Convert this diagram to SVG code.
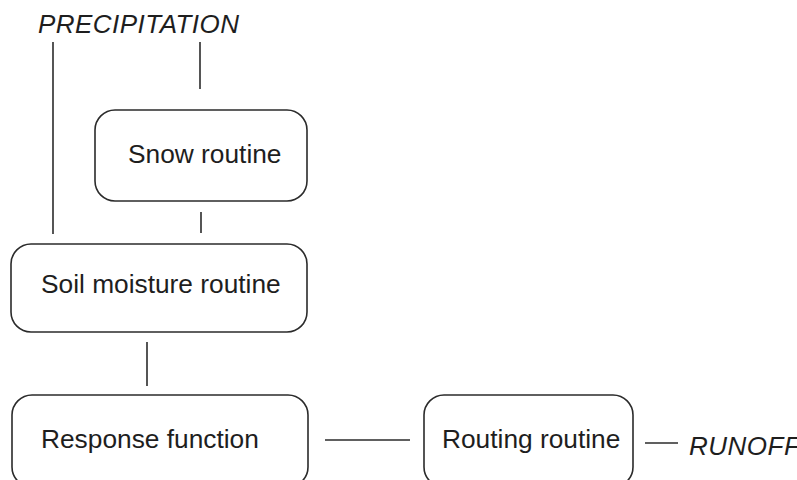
<svg xmlns="http://www.w3.org/2000/svg" width="797" height="480" viewBox="0 0 797 480">
<style>
.box{fill:#fff;stroke:#2b2b2b;stroke-width:1.6}
.lbl{font-family:"Liberation Sans",Arial,sans-serif;font-size:26.3px;fill:#1e1e1e}
.it{font-family:"Liberation Sans",Arial,sans-serif;font-size:26px;font-style:italic;fill:#1e1e1e}
.ln{stroke:#2b2b2b;stroke-width:1.6;fill:none}
</style>
<rect width="797" height="480" fill="#fff"/>
<text class="it" x="38" y="33" textLength="201">PRECIPITATION</text>
<g id="connectors">
<line class="ln" x1="53" y1="42" x2="53" y2="234"/>
<line class="ln" x1="200" y1="42" x2="200" y2="89"/>
<line class="ln" x1="201" y1="212" x2="201" y2="233"/>
<line class="ln" x1="147" y1="342" x2="147" y2="386"/>
<line class="ln" x1="325" y1="440" x2="410" y2="440"/>
<line class="ln" x1="645" y1="443" x2="678" y2="443"/>
</g>
<g id="snow">
<rect class="box" x="95" y="110" width="212" height="91" rx="20"/>
<text class="lbl" x="128" y="163">Snow routine</text>
</g>
<g id="soil">
<rect class="box" x="11" y="244" width="296" height="88" rx="20"/>
<text class="lbl" x="41" y="293">Soil moisture routine</text>
</g>
<g id="response">
<rect class="box" x="12" y="395" width="296" height="92" rx="20"/>
<text class="lbl" x="41" y="448">Response function</text>
</g>
<g id="routing">
<rect class="box" x="424" y="395" width="209" height="92" rx="20"/>
<text class="lbl" x="442" y="448">Routing routine</text>
</g>
<text class="it" x="689" y="455" letter-spacing="0.5">RUNOFF</text>
</svg>
